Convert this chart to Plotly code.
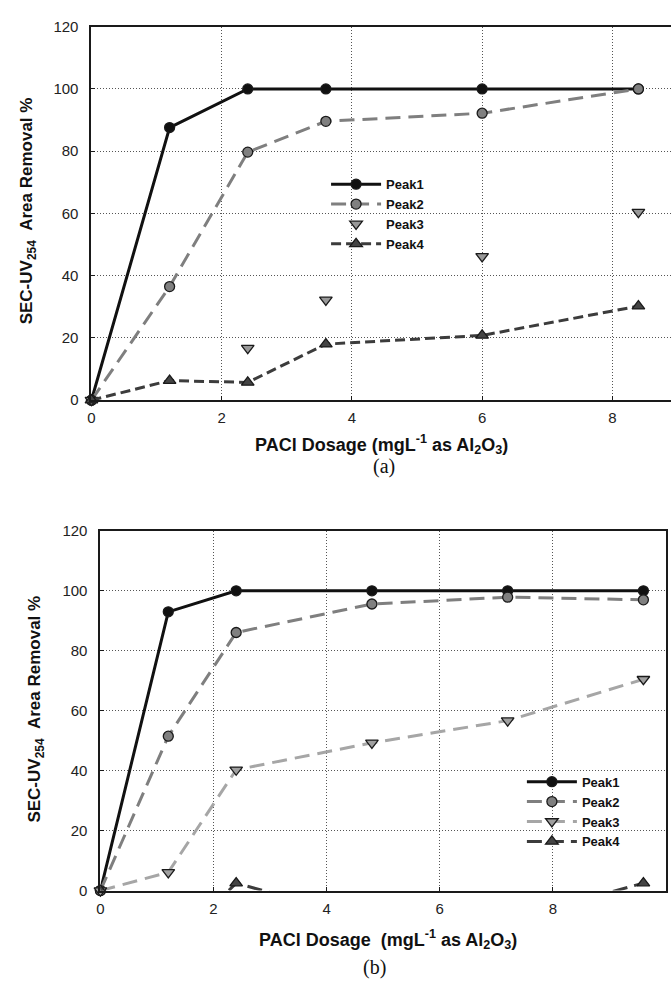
import plotly.graph_objects as go

# ---------------- data ----------------
# (a)
xa = [0, 1.2, 2.4, 3.6, 6, 8.4]
a_peak1 = [0, 87.6, 100, 100, 100, 100]
a_peak2 = [0, 36.5, 79.7, 89.6, 92.2, 100]
xa_p3 = [0, 2.4, 3.6, 6, 8.4]
a_peak3 = [0, 16.7, 32.2, 46.2, 60.4]
a_peak4 = [0, 6.3, 5.7, 18.0, 20.8, 30.2]

# (b)
xb = [0, 1.2, 2.4, 4.8, 7.2, 9.6]
b_peak1 = [0, 93.0, 100, 100, 100, 100]
b_peak2 = [0, 51.5, 86.1, 95.6, 97.9, 97.0]
b_peak3 = [0, 6.1, 40.3, 49.3, 56.7, 70.5]
b_peak4 = [0, -20, 2.5, -10, -10, 2.5]

names = ["Peak1", "Peak2", "Peak3", "Peak4"]
y_ticks = [0, 20, 40, 60, 80, 100, 120]
xa_ticks = [0, 2, 4, 6, 8]
xb_ticks = [0, 2, 4, 6, 8, 10]

# ---------------- styles ----------------
W, H = 671, 990
C1 = "#111111"
C2 = "#7f7f7f"
C3 = "#a6a6a6"
C4 = "#3c3c3c"
OUT = "#1a1a1a"

fig = go.Figure()

def add(x, y, name, color, dash, symbol, mcolor, xaxis, yaxis, legend,
        mode="lines+markers", width=3, clip=False):
    fig.add_trace(go.Scatter(
        x=x, y=y, name=name, mode=mode,
        line=dict(color=color, width=width, dash=dash),
        marker=dict(symbol=symbol, size=10 if "circle" in symbol else 11,
                    color=mcolor, line=dict(color=OUT, width=1.3)),
        xaxis=xaxis, yaxis=yaxis, legend=legend, cliponaxis=clip,
    ))

# top chart (a)
add(xa, a_peak1, names[0], C1, "solid", "circle", "#111111", "x", "y", "legend")
add(xa, a_peak2, names[1], C2, "15px,8px", "circle", "#808080", "x", "y", "legend")
add(xa_p3, a_peak3, names[2], C3, "solid", "triangle-down", "#999999", "x", "y", "legend",
    mode="markers")
add(xa, a_peak4, names[3], C4, "10px,5px", "triangle-up", "#444444", "x", "y", "legend")

# bottom chart (b)
add(xb, b_peak1, names[0], C1, "solid", "circle", "#111111", "x2", "y2", "legend2")
add(xb, b_peak2, names[1], C2, "15px,8px", "circle", "#808080", "x2", "y2", "legend2")
add(xb, b_peak3, names[2], C3, "15px,8px", "triangle-down", "#a0a0a0", "x2", "y2", "legend2")
add(xb, b_peak4, names[3], C4, "15px,7px", "triangle-up", "#444444", "x2", "y2", "legend2",
    clip=True)

tickfont = dict(family="Liberation Sans, Arial, sans-serif", size=15, color="#222222")
GRID = dict(showgrid=True, gridcolor="#555555", griddash="1px,2px", gridwidth=1)

def xax(domain, rng, ticks, anchor):
    return dict(domain=domain, range=rng, tickvals=ticks, anchor=anchor,
                showline=True, linecolor="#1a1a1a", linewidth=2, mirror=True,
                ticks="inside", ticklen=4, tickcolor="#1a1a1a",
                zeroline=False, tickfont=tickfont, ticklabelstandoff=3, **GRID)

def yax(domain, anchor, mirror):
    return dict(domain=domain, range=[0, 120], tickvals=y_ticks, anchor=anchor,
                showline=True, linecolor="#1a1a1a", linewidth=2, mirror=mirror,
                ticks="inside", ticklen=4, tickcolor="#1a1a1a",
                zeroline=False, tickfont=tickfont, ticklabelstandoff=8, **GRID)

xa_max = (W - 88) / 65.5

legfont = dict(family="Liberation Sans, Arial, sans-serif", size=13,
               color="#111111", weight="bold")

fig.update_layout(
    width=W, height=H,
    margin=dict(l=0, r=0, t=0, b=0),
    paper_bgcolor="white", plot_bgcolor="white",
    xaxis=xax([88 / W, 1.0], [0, xa_max], xa_ticks, "y"),
    yaxis=yax([1 - 398 / H, 1 - 18 / H], "x", False),
    xaxis2=xax([97 / W, 666 / W], [0, 10], xb_ticks, "y2"),
    yaxis2=yax([1 - 897 / H, 1 - 531 / H], "x2", True),
    legend=dict(x=324 / W, y=1 - 163 / H, xanchor="left", yanchor="top",
                bgcolor="rgba(0,0,0,0)", itemwidth=50, tracegroupgap=0,
                font=legfont),
    legend2=dict(x=521 / W, y=1 - 771 / H, xanchor="left", yanchor="top",
                 bgcolor="rgba(0,0,0,0)", itemwidth=50, tracegroupgap=0,
                 font=legfont),
    showlegend=True,
)

title_font = dict(family="Liberation Sans, Arial, sans-serif", size=17, color="#111111")
xtitle_font = dict(family="Liberation Sans, Arial, sans-serif", size=18, color="#111111")
ytitle = "<b>SEC-UV<sub>254</sub>\u00a0\u00a0Area Removal %</b>"
xtitle_a = "<b>PACl Dosage (mgL<sup>-1</sup> as Al<sub>2</sub>O<sub>3</sub>)</b>"
xtitle_b = "<b>PACl Dosage\u00a0\u00a0(mgL<sup>-1</sup> as Al<sub>2</sub>O<sub>3</sub>)</b>"
serif = dict(family="Liberation Serif, Times New Roman, serif", size=20, color="#111111")

ann = [
    dict(text=ytitle, x=25 / W, y=1 - 205 / H, textangle=-90, font=title_font),
    dict(text=ytitle, x=32 / W, y=1 - 712 / H, textangle=-90, font=title_font),
    dict(text=xtitle_a, x=380 / W, y=1 - 443 / H, font=xtitle_font),
    dict(text=xtitle_b, x=386 / W, y=1 - 947 / H, font=xtitle_font),
    dict(text="(a)", x=382 / W, y=1 - 466 / H, font=serif),
    dict(text="(b)", x=373 / W, y=1 - 975 / H, font=serif),
]
for a in ann:
    a.update(xref="paper", yref="paper", showarrow=False, xanchor="center", yanchor="middle")
    fig.add_annotation(**a)

fig.write_html("out.html",
               config={"displayModeBar": False},
               post_script="document.body.style.margin='0';document.body.style.overflow='hidden';")
